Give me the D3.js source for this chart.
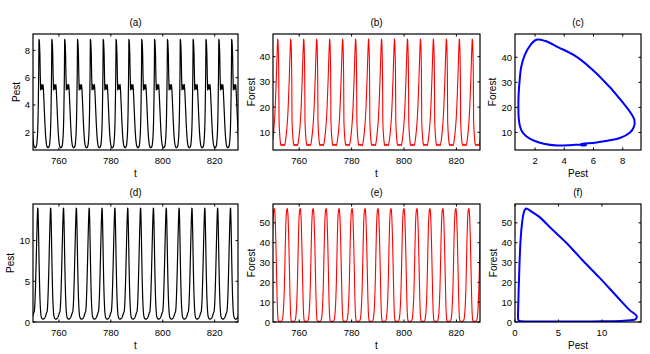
<!DOCTYPE html>
<html>
<head>
<meta charset="utf-8">
<script src="https://d3js.org/d3.v7.min.js"></script>
<style>
  body { margin: 0; background: #fff; }
  svg { display: block; font-family: "Liberation Sans", Arial, sans-serif; }
  .tick-label { font-size: 9.5px; fill: #000; }
  .axis-label { font-size: 10px; fill: #000; }
</style>
</head>
<body>
<script>
// ---- data ----
// one period of the top-row cycle, tau measured from a Pest peak
const tauTop    = [0, 0.1, 0.2, 0.35, 0.5, 0.65, 0.8, 0.95, 1.1, 1.25, 1.4, 1.55, 1.7, 1.9, 2.1, 2.3, 2.5, 2.7, 2.9, 3.1, 3.3, 3.5, 3.7, 3.9, 4.05, 4.2, 4.35, 4.45, 4.55, 4.65, 4.75, 4.85, 4.92, 4.95];
const pestTop   = [8.8, 8.75, 8.5, 7.8, 6.2, 5.1, 5.2, 5.5, 5.35, 5.15, 5.35, 5.5, 5.2, 4.4, 3.5, 2.6, 1.9, 1.4, 1.1, 0.95, 0.88, 0.86, 0.88, 0.95, 1.05, 1.3, 1.7, 2.1, 2.7, 3.6, 4.9, 6.3, 8.0, 8.8];
const forestTop = [15, 12, 10, 7.8, 6.0, 5.2, 4.8, 5.0, 5.2, 5.0, 4.8, 5.0, 5.2, 4.9, 4.8, 5.5, 6.8, 8.5, 10.5, 13, 16, 20, 25.5, 31, 36, 41, 45, 47, 46.5, 44, 40, 33, 22, 15];
// times at which each top-row cycle starts (Pest peaks)
const startsTop = [747.35, 752.3, 757.25, 762.2, 767.15, 772.1, 777.05, 782.0, 786.95, 791.9, 796.85, 801.8, 806.75, 811.7, 816.65, 821.6, 826.55];

// one period of the bottom-row cycle, tau measured from a Forest peak
const tauBot    = [0, 0.15, 0.3, 0.45, 0.6, 0.75, 0.9, 1.05, 1.2, 1.32, 1.42, 1.55, 1.7, 1.85, 2.0, 2.15, 2.3, 2.45, 2.6, 2.8, 3.0, 3.2, 3.4, 3.6, 3.8, 3.95, 4.1, 4.25, 4.4, 4.55, 4.7, 4.85, 4.95];
const pestBot   = [1.3, 1.8, 2.8, 4.2, 5.9, 7.8, 9.8, 11.7, 13.2, 14.0, 13.9, 12.5, 10.0, 7.3, 5.0, 3.2, 2.0, 1.2, 0.75, 0.5, 0.4, 0.35, 0.35, 0.38, 0.42, 0.48, 0.55, 0.65, 0.8, 0.95, 1.1, 1.22, 1.3];
const forestBot = [57.2, 56, 53, 47, 40, 31, 22, 13, 6, 3, 1.5, 0.6, 0.35, 0.3, 0.3, 0.3, 0.3, 0.3, 0.35, 0.5, 0.9, 2.0, 4.5, 9, 16, 24, 33, 42, 49.5, 54, 56.3, 57, 57.2];
// times at which each bottom-row cycle starts (Forest peaks)
const startsBot = [745.55, 750.5, 755.45, 760.4, 765.35, 770.3, 775.25, 780.2, 785.15, 790.1, 795.05, 800.0, 804.95, 809.9, 814.85, 819.8, 824.75];

const tTicks = [760, 780, 800, 820];
const tDomain = [750, 829];

// ---- helpers ----
function series(starts, tau, vals) {
  const out = [];
  starts.forEach(s => {
    for (let i = 0; i < tau.length - 1; i++) out.push([s + tau[i], vals[i]]);
  });
  return out;
}
function portrait(xs, ys) {
  return xs.map((x, i) => [x, ys[i]]);
}

const width = 650, height = 354;
const svg = d3.select('body').append('svg')
  .attr('width', width).attr('height', height);

let clipId = 0;
function panel(p) {
  const x = d3.scaleLinear().domain(p.xDomain).range([p.x0, p.x1]);
  const y = d3.scaleLinear().domain(p.yDomain).range([p.y1, p.y0]);
  const g = svg.append('g');
  const id = 'clip' + (clipId++);
  g.append('clipPath').attr('id', id).append('rect')
    .attr('x', p.x0).attr('y', p.y0).attr('width', p.x1 - p.x0).attr('height', p.y1 - p.y0);

  const line = d3.line().x(d => x(d[0])).y(d => y(d[1]));
  if (p.closed) line.curve(d3.curveCatmullRomClosed);
  g.append('path')
    .attr('clip-path', 'url(#' + id + ')')
    .attr('d', line(p.data))
    .attr('fill', 'none')
    .attr('stroke', p.color)
    .attr('stroke-width', p.lw)
    .attr('stroke-linejoin', 'round');

  // box
  g.append('rect')
    .attr('x', p.x0).attr('y', p.y0).attr('width', p.x1 - p.x0).attr('height', p.y1 - p.y0)
    .attr('fill', 'none').attr('stroke', '#000').attr('stroke-width', 1.2);

  const tl = 2.5;
  p.xTicks.forEach(v => {
    const xx = x(v);
    g.append('line').attr('x1', xx).attr('x2', xx).attr('y1', p.y1).attr('y2', p.y1 - tl).attr('stroke', '#000');
    g.append('line').attr('x1', xx).attr('x2', xx).attr('y1', p.y0).attr('y2', p.y0 + tl).attr('stroke', '#000');
    g.append('text').attr('class', 'tick-label')
      .attr('x', xx).attr('y', p.y1 + 13.5).attr('text-anchor', 'middle').text(v);
  });
  p.yTicks.forEach(v => {
    const yy = y(v);
    g.append('line').attr('x1', p.x0).attr('x2', p.x0 + tl).attr('y1', yy).attr('y2', yy).attr('stroke', '#000');
    g.append('line').attr('x1', p.x1).attr('x2', p.x1 - tl).attr('y1', yy).attr('y2', yy).attr('stroke', '#000');
    g.append('text').attr('class', 'tick-label')
      .attr('x', p.x0 - 3).attr('y', yy + 3.5).attr('text-anchor', 'end').text(v);
  });

  g.append('text').attr('class', 'axis-label')
    .attr('x', (p.x0 + p.x1) / 2).attr('y', p.y0 - 8).attr('text-anchor', 'middle').text(p.title);
  g.append('text').attr('class', 'axis-label')
    .attr('x', (p.x0 + p.x1) / 2).attr('y', p.y1 + 27).attr('text-anchor', 'middle').text(p.xLabel);
  g.append('text').attr('class', 'axis-label')
    .attr('transform', 'translate(' + p.yLabelX + ',' + ((p.y0 + p.y1) / 2) + ') rotate(-90)')
    .attr('text-anchor', 'middle').text(p.yLabel);
}

const top0 = 34, top1 = 150, bot0 = 204, bot1 = 322;

panel({ title: '(a)', x0: 33, x1: 238, y0: top0, y1: top1, xDomain: tDomain, yDomain: [0.7, 9.2],
  xTicks: tTicks, yTicks: [2, 4, 6, 8], data: series(startsTop, tauTop, pestTop),
  color: '#000', lw: 1.2, xLabel: 't', yLabel: 'Pest', yLabelX: 19.5 });
panel({ title: '(b)', x0: 273, x1: 480, y0: top0, y1: top1, xDomain: tDomain, yDomain: [3, 49],
  xTicks: tTicks, yTicks: [10, 20, 30, 40], data: series(startsTop, tauTop, forestTop),
  color: '#ff0000', lw: 1.1, xLabel: 't', yLabel: 'Forest', yLabelX: 255 });
panel({ title: '(c)', x0: 515, x1: 641, y0: top0, y1: top1, xDomain: [0.63, 9.25], yDomain: [3, 49.3],
  xTicks: [2, 4, 6, 8], yTicks: [10, 20, 30, 40], data: portrait(pestTop.slice(0, -1), forestTop.slice(0, -1)),
  closed: true, color: '#0000ff', lw: 2, xLabel: 'Pest', yLabel: 'Forest', yLabelX: 496 });

panel({ title: '(d)', x0: 33, x1: 238, y0: bot0, y1: bot1, xDomain: tDomain, yDomain: [0, 14.5],
  xTicks: tTicks, yTicks: [0, 5, 10], data: series(startsBot, tauBot, pestBot),
  color: '#000', lw: 1.2, xLabel: 't', yLabel: 'Pest', yLabelX: 14 });
panel({ title: '(e)', x0: 273, x1: 480, y0: bot0, y1: bot1, xDomain: tDomain, yDomain: [0, 59.5],
  xTicks: tTicks, yTicks: [0, 10, 20, 30, 40, 50], data: series(startsBot, tauBot, forestBot),
  color: '#ff0000', lw: 1.1, xLabel: 't', yLabel: 'Forest', yLabelX: 255 });
panel({ title: '(f)', x0: 515, x1: 641, y0: bot0, y1: bot1, xDomain: [0, 14.5], yDomain: [0, 59.5],
  xTicks: [0, 5, 10], yTicks: [0, 10, 20, 30, 40, 50], data: portrait(pestBot.slice(0, -1), forestBot.slice(0, -1)),
  closed: true, color: '#0000ff', lw: 2, xLabel: 'Pest', yLabel: 'Forest', yLabelX: 497 });
</script>
</body>
</html>
